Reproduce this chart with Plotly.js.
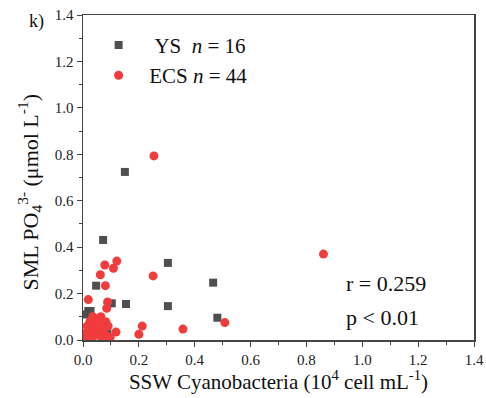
<!DOCTYPE html>
<html><head><meta charset="utf-8">
<script src="https://cdn.plot.ly/plotly-3.0.1.min.js"></script>
<style>html,body{margin:0;padding:0;background:#fff;}#c{width:486px;height:398px;}</style>
</head><body><div id="c"></div>
<script>
const ysX = [0.150,0.072,0.304,0.466,0.481,0.304,0.154,0.103,0.047,0.019,0.027,0.031,0.087,0.010,0.040,0.015];
const ysY = [0.724,0.431,0.332,0.247,0.096,0.146,0.155,0.158,0.234,0.125,0.125,0.095,0.029,0.110,0.060,0.020];
const ecsX = [0.254,0.861,0.251,0.508,0.358,0.212,0.200,0.121,0.109,0.078,0.062,0.080,0.019,0.088,0.085,0.082,0.118,0.097,0.064,
  0.010,0.020,0.030,0.040,0.050,0.060,0.070,0.015,0.025,0.035,0.045,0.055,0.065,0.075,0.008,0.030,0.050,0.040,0.020,0.060,0.070,0.080,0.012,0.045,0.090];
const ecsY = [0.793,0.370,0.276,0.075,0.047,0.060,0.025,0.340,0.309,0.323,0.281,0.234,0.174,0.164,0.137,0.079,0.034,0.012,0.100,
  0.030,0.010,0.050,0.020,0.070,0.040,0.010,0.060,0.080,0.100,0.050,0.020,0.060,0.030,0.015,0.005,0.090,0.075,0.040,0.080,0.050,0.020,0.005,0.030,0.060];
const ysName = "\u00a0\u00a0\u00a0YS\u00a0\u00a0<i>n</i> = 16";
const ecsName = "\u00a0\u00a0ECS <i>n</i> = 44";
const statText = ["r = 0.259", "p < 0.01"];
const panelLabel = "k)";
const xTitle = "SSW Cyanobacteria (10<sup>4</sup> cell mL<sup>-1</sup>)";
const yTitle = "SML PO<sub>4</sub><sup>3-</sup> (μmol L<sup>-1</sup>)";

const F = "Liberation Serif";
const traces = [
  {x: ysX, y: ysY, name: ysName, type: "scatter", mode: "markers",
   marker: {symbol: "square", size: 8, color: "#4f4f4f"}},
  {x: ecsX, y: ecsY, name: ecsName, type: "scatter", mode: "markers",
   marker: {symbol: "circle", size: 9, color: "#f03c3c"}}
];
function axis(extra) {
  return Object.assign({
    range: [0, 1.4], dtick: 0.2, tickformat: ".1f", showgrid: false, zeroline: false,
    showline: true, linecolor: "#444", linewidth: 1.5, mirror: true,
    ticks: "outside", ticklen: 5, tickwidth: 1, tickcolor: "#444",
    tickfont: {family: F, size: 15, color: "#222"},
    minor: {dtick: 0.1, ticks: "outside", ticklen: 3, tickwidth: 1, tickcolor: "#444", showgrid: false}
  }, extra);
}
const layout = {
  width: 486, height: 398,
  margin: {l: 83, r: 12, t: 15, b: 58},
  paper_bgcolor: "#fff", plot_bgcolor: "#fff",
  font: {family: F, color: "#111", size: 15},
  showlegend: true,
  legend: {x: 0.04, y: 0.97, xanchor: "left", yanchor: "top", bgcolor: "rgba(0,0,0,0)",
    font: {family: F, size: 21, color: "#111"}, tracegroupgap: 0, itemsizing: "trace"},
  xaxis: axis({
    title: {text: xTitle, font: {family: F, size: 21, color: "#111"}, standoff: 4}
  }),
  yaxis: axis({}),
  annotations: [
    {text: yTitle, xref: "paper", yref: "paper", x: -0.137, y: 0.455, xanchor: "center", yanchor: "middle",
     textangle: -90, showarrow: false, font: {family: F, size: 22, color: "#111"}},
    {text: panelLabel, xref: "paper", yref: "paper", x: -0.118, y: 0.98, xanchor: "center", yanchor: "middle",
     showarrow: false, font: {family: F, size: 18, color: "#111"}},
    {text: statText[0], xref: "x", yref: "y", x: 0.935, y: 0.245, xanchor: "left", yanchor: "middle",
     showarrow: false, font: {family: F, size: 22, color: "#111"}},
    {text: statText[1], xref: "x", yref: "y", x: 0.935, y: 0.095, xanchor: "left", yanchor: "middle",
     showarrow: false, font: {family: F, size: 22, color: "#111"}}
  ]
};
Plotly.newPlot("c", traces, layout, {staticPlot: true, displayModeBar: false});
</script></body></html>
